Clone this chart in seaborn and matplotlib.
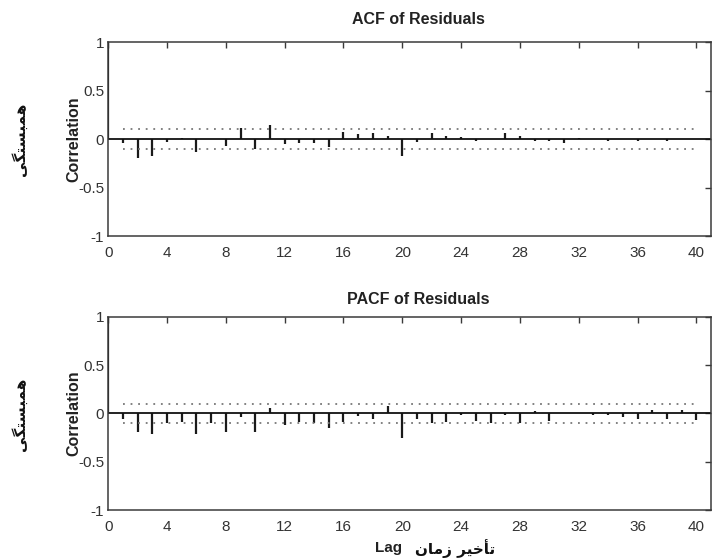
import numpy as np
import pandas as pd
import matplotlib
matplotlib.use("Agg")
import matplotlib.pyplot as plt
import seaborn as sns

# lags 0..40
lags = list(range(41))
acf_vals = [1.0, -0.045, -0.19, -0.175, -0.035, 0.015, -0.13, 0.0, -0.07, 0.11,
            -0.10, 0.15, -0.05, -0.04, -0.04, -0.08, 0.075, 0.05, 0.065, 0.035,
            -0.175, -0.035, 0.06, 0.035, 0.02, -0.015, 0.0, 0.06, 0.035, -0.015,
            -0.015, -0.045, 0.015, 0.0, -0.015, 0.0, -0.015, 0.0, -0.015, 0.0, 0.0]
pacf_vals = [1.0, -0.06, -0.19, -0.21, -0.095, -0.09, -0.21, -0.10, -0.19, -0.035,
             -0.19, 0.06, -0.12, -0.085, -0.10, -0.155, -0.085, -0.03, -0.055, 0.075,
             -0.25, -0.06, -0.095, -0.085, -0.015, -0.08, -0.10, -0.015, -0.095, 0.02,
             -0.08, 0.0, 0.0, -0.015, -0.015, -0.035, -0.06, 0.035, -0.06, 0.035, -0.07]
acf_bound = 0.1
pacf_bound = 0.1
xticks = list(range(0, 41, 4))
yticks = [-1, -0.5, 0, 0.5, 1]
ytick_labels = ["-1", "-0.5", "0", "0.5", "1"]

sns.set_style("white")
plt.rcParams["font.family"] = ["Liberation Sans", "DejaVu Sans"]

AX_COL = "#3a3a3a"
TXT_COL = "#333333"


def draw_panel(ax, vals, bound, title, tpad):
    df = pd.DataFrame({"lag": lags, "value": vals})
    ax.vlines(df["lag"], 0, df["value"], color="#1a1a1a", lw=1.6)
    ax.axhline(0, color="#111111", lw=1.3)
    bnd = pd.DataFrame({"lag": [1, 40, 1, 40], "b": [bound, bound, -bound, -bound],
                        "side": ["up", "up", "lo", "lo"]})
    for side, d in bnd.groupby("side"):
        sns.lineplot(data=d, x="lag", y="b", ax=ax, color="#777777", lw=1.3,
                     linestyle=(0, (1, 3.2)), legend=False)
    ax.set_xlim(0, 41)
    ax.set_ylim(-1, 1)
    ax.set_xticks(xticks)
    ax.set_xticklabels([str(t) for t in xticks])
    ax.set_yticks(yticks)
    ax.set_yticklabels(ytick_labels)
    ax.tick_params(direction="in", top=True, right=True, length=4, width=1,
                   colors=AX_COL, labelcolor=TXT_COL, labelsize=11, pad=3)
    ax.tick_params(axis="x", pad=7)
    for sp in ax.spines.values():
        sp.set_visible(True)
        sp.set_color(AX_COL)
        sp.set_linewidth(1.1)
    ax.set_xlabel("")
    ax.set_ylabel("Correlation", fontsize=11.5, fontweight="bold", color="#222222")
    ax.yaxis.set_label_coords(-0.045, 0.5)
    ax.set_title(title, fontsize=11.5, fontweight="bold", color="#222222", pad=tpad,
                 x=0.514)


fig = plt.figure(figsize=(7.19, 5.58), dpi=100)
ax1 = fig.add_axes([0.1505, 0.577, 0.8385, 0.3475])
ax2 = fig.add_axes([0.1505, 0.086, 0.8385, 0.3465])
draw_panel(ax1, acf_vals, acf_bound, "ACF of Residuals", 13)
draw_panel(ax2, pacf_vals, pacf_bound, "PACF of Residuals", 9)

# Persian labels (pre-shaped glyphs in visual order)
fa_corr = "\uFBFD\uFB95\uFE98\uFEB4\uFE92\uFEE4\uFEEB"
fa_lag = "\uFEE5\uFE8E\uFEE3\uFEAF \uFEAE\uFBFF\uFEA7\uFE84\uFE97"
for yc in [1 - 139 / 558, 1 - 414 / 558]:
    fig.text(20 / 719, yc, fa_corr, rotation=90, ha="center", va="center",
             fontsize=11, fontweight="bold", family=["DejaVu Sans"], color="#111111")
fig.text(388 / 719, 1 - 548 / 558, "Lag", ha="center", va="center",
         fontsize=11, fontweight="bold", color="#222222")
fig.text(455 / 719, 1 - 549 / 558, fa_lag, ha="center", va="center",
         fontsize=11, fontweight="bold", family=["DejaVu Sans"], color="#111111")

fig.savefig("out.png", dpi=100)
